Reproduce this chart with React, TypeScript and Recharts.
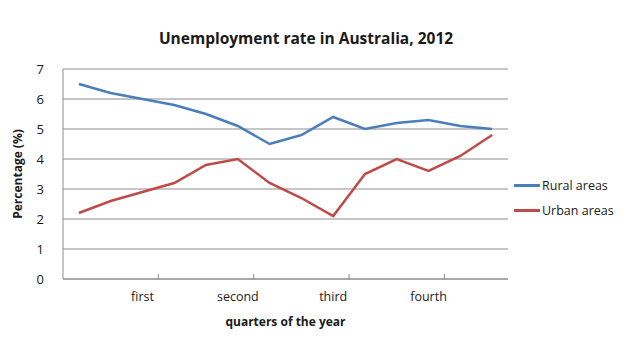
import { LineChart, Line, XAxis, YAxis, CartesianGrid, Legend } from 'recharts';

const xLabels = ['', '', 'first', '', '', 'second', '', '', 'third', '', '', 'fourth', '', ''];
const rural = [6.5, 6.2, 6.0, 5.8, 5.5, 5.1, 4.5, 4.8, 5.4, 5.0, 5.2, 5.3, 5.1, 5.0];
const urban = [2.2, 2.6, 2.9, 3.2, 3.8, 4.0, 3.2, 2.7, 2.1, 3.5, 4.0, 3.6, 4.1, 4.8];
const yTicks = [0, 1, 2, 3, 4, 5, 6, 7];

const series = [
  { key: 'rural', label: 'Rural areas', color: '#4a7ebb' },
  { key: 'urban', label: 'Urban areas', color: '#be4b48' },
];

const FONT = '"Open Sans", sans-serif';
const GRID = '#8c8c8c';
const TEXT = '#1a1a1a';

const data = xLabels.map((label, i) => ({ idx: i, label, rural: rural[i], urban: urban[i] }));

// label at the category centre, tick mark at the band edge to its right (like Excel's every-3rd mark)
const QuarterTick = (props: any) => {
  const { x, y, payload } = props;
  const label = xLabels[payload.value];
  if (!label) return null;
  const edge = x + (payload.offset || 0);
  return (
    <g>
      <line x1={edge} x2={edge} y1={y - 5} y2={y} stroke={GRID} />
      <text x={x} y={y + 22} textAnchor="middle" fontFamily={FONT} fontSize={12.5} fill={TEXT}>
        {label}
      </text>
    </g>
  );
};

const LegendList = () => (
  <div style={{ fontFamily: FONT, fontSize: 12.5, color: TEXT }}>
    {series.map((s) => (
      <div key={s.key} style={{ display: 'flex', alignItems: 'center', height: 25 }}>
        <span style={{ width: 26, height: 2.5, background: s.color, display: 'inline-block', marginRight: 2 }} />
        <span>{s.label}</span>
      </div>
    ))}
  </div>
);

export default function App() {
  return (
    <div style={{ position: 'relative', width: 640, height: 346, background: '#fff' }}>
      <style>{'body{margin:0}'}</style>
      <div
        style={{
          position: 'absolute',
          top: 27,
          left: 0,
          width: 612,
          textAlign: 'center',
          fontFamily: FONT,
          fontWeight: 700,
          fontSize: 15.5,
          color: TEXT,
        }}
      >
        Unemployment rate in Australia, 2012
      </div>
      <LineChart width={640} height={346} data={data} margin={{ top: 69, right: 132, left: 0, bottom: 0 }}>
        <CartesianGrid stroke={GRID} vertical={false} />
        <XAxis
          dataKey="idx"
          scale="band"
          interval={0}
          tickLine={false}
          tickSize={0}
          tickMargin={0}
          axisLine={{ stroke: GRID }}
          height={67}
          tick={<QuarterTick />}
          label={{
            value: 'quarters of the year',
            position: 'insideTop',
            offset: 38,
            style: { fontFamily: FONT, fontSize: 12, fontWeight: 700, fill: TEXT },
          }}
        />
        <YAxis
          domain={[0, 7]}
          ticks={yTicks}
          width={63}
          tickLine={false}
          axisLine={{ stroke: GRID }}
          tick={{ fontFamily: FONT, fontSize: 13, fill: TEXT }}
          tickMargin={13}
          label={{
            value: 'Percentage (%)',
            angle: -90,
            position: 'insideLeft',
            offset: 18,
            style: { fontFamily: FONT, fontSize: 12, fontWeight: 700, fill: TEXT, textAnchor: 'middle' },
          }}
        />
        {series.map((s) => (
          <Line
            key={s.key}
            dataKey={s.key}
            name={s.label}
            stroke={s.color}
            strokeWidth={2.5}
            dot={false}
            type="linear"
            isAnimationActive={false}
          />
        ))}
        <Legend
          layout="horizontal"
          align="center"
          verticalAlign="middle"
          content={<LegendList />}
          wrapperStyle={{ left: 514, top: 173, width: 120 }}
        />
      </LineChart>
    </div>
  );
}
